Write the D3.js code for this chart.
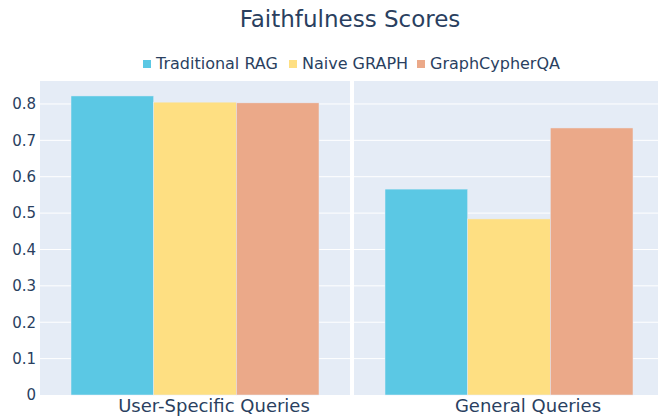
<!DOCTYPE html>
<html>
<head>
<meta charset="utf-8">
<script src="https://cdn.jsdelivr.net/npm/d3@7"></script>
<style>
  body { margin: 0; background: #fff; }
  svg { display: block; font-family: "DejaVu Sans", Verdana, sans-serif; }
</style>
</head>
<body>
<div id="chart"></div>
<script>
const panels = ["User-Specific Queries", "General Queries"];
const methods = ["Traditional RAG", "Naive GRAPH", "GraphCypherQA"];
const colors = ["#5BC8E4", "#FEDF82", "#EBA989"];
// one value per method, for each panel
const userSpecific = [0.822, 0.805, 0.803];
const general = [0.566, 0.484, 0.734];
const yTicks = [0, 0.1, 0.2, 0.3, 0.4, 0.5, 0.6, 0.7, 0.8];

const width = 658, height = 420;
const margin = { top: 81, bottom: 25, left: 40 };
const panelWidth = 310, panelGap = 4;
const textColor = "#2a3f5f";

const svg = d3.select("#chart").append("svg")
    .attr("width", width)
    .attr("height", height);

// title
svg.append("text")
    .attr("x", 350).attr("y", 27)
    .attr("text-anchor", "middle")
    .attr("font-size", "23px")
    .attr("fill", textColor)
    .text("Faithfulness Scores");

const y = d3.scaleLinear()
    .domain([0, d3.max(userSpecific.concat(general)) * 1.05])
    .range([height - margin.bottom, margin.top]);

const series = [userSpecific, general];

panels.forEach((name, i) => {
    const x0 = margin.left + i * (panelWidth + panelGap);
    const x = d3.scaleBand().domain([name]).range([x0, x0 + panelWidth]).paddingInner(0.2).paddingOuter(0.1);
    const xm = d3.scaleBand().domain(methods).range([0, x.bandwidth()]);

    const g = svg.append("g");
    g.append("rect")
        .attr("x", x0).attr("y", margin.top)
        .attr("width", panelWidth).attr("height", y(0) - margin.top)
        .attr("fill", "#E5ECF6");

    g.selectAll("line.grid")
        .data(yTicks.slice(1))
        .join("line")
        .attr("class", "grid")
        .attr("x1", x0).attr("x2", x0 + panelWidth)
        .attr("y1", d => y(d)).attr("y2", d => y(d))
        .attr("stroke", "#fff").attr("stroke-width", 1);

    g.selectAll("rect.bar")
        .data(series[i])
        .join("rect")
        .attr("class", "bar")
        .attr("x", (d, j) => x(name) + xm(methods[j]))
        .attr("width", xm.bandwidth())
        .attr("y", d => y(d))
        .attr("height", d => y(0) - y(d))
        .attr("fill", (d, j) => colors[j])
        .attr("stroke", "#E5ECF6").attr("stroke-width", 0.5);

    // category label
    g.append("text")
        .attr("x", x(name) + x.bandwidth() / 2 + 19)
        .attr("y", 412)
        .attr("text-anchor", "middle")
        .attr("font-size", "18px")
        .attr("fill", textColor)
        .text(name);
});

// shared y axis labels
const yAxis = d3.axisLeft(y).tickValues(yTicks).tickSize(0).tickPadding(4).tickFormat(d3.format("~g"));
svg.append("g")
    .attr("transform", `translate(${margin.left},0)`)
    .call(yAxis)
    .call(g => g.select(".domain").remove())
    .call(g => g.selectAll("text")
        .attr("font-size", "15px")
        .attr("font-family", "DejaVu Sans, Verdana, sans-serif")
        .attr("fill", textColor));

// legend
const legend = svg.append("g").attr("transform", "translate(143, 69)");
const itemX = [0, 146, 274];
methods.forEach((m, j) => {
    const item = legend.append("g").attr("transform", `translate(${itemX[j]},0)`);
    item.append("rect")
        .attr("x", 0).attr("y", -9)
        .attr("width", 8).attr("height", 8)
        .attr("fill", colors[j]);
    item.append("text")
        .attr("x", 13).attr("y", 0)
        .attr("font-size", "16px")
        .attr("fill", textColor)
        .text(m);
});
</script>
</body>
</html>
